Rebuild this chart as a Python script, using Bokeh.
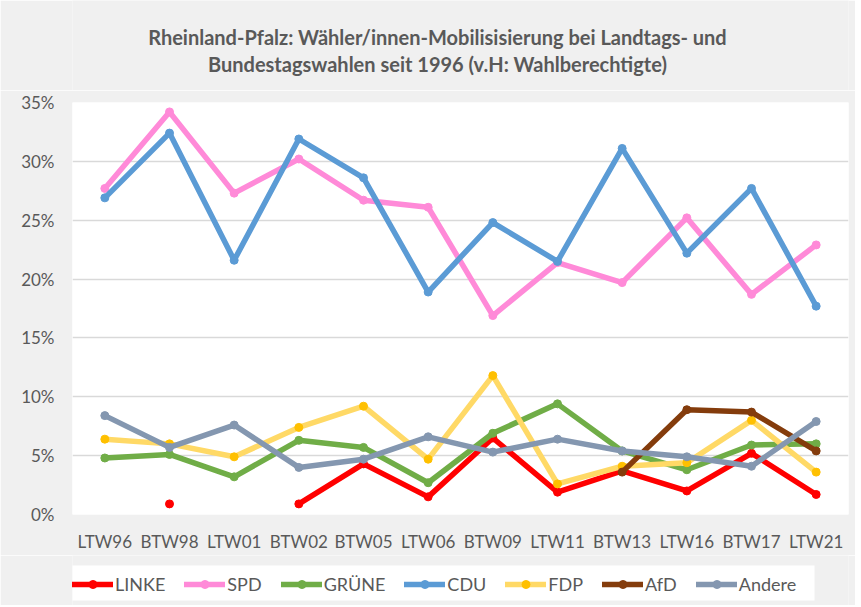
import numpy as np
from bokeh.plotting import figure
from bokeh.layouts import column
from bokeh.models import (FactorRange, FixedTicker, Legend, LegendItem, Range1d, Label,
                          BoxAnnotation)
from bokeh.embed import file_html
from bokeh.resources import INLINE

nan = float("nan")

elections = ["LTW96", "BTW98", "LTW01", "BTW02", "BTW05", "LTW06",
             "BTW09", "LTW11", "BTW13", "LTW16", "BTW17", "LTW21"]

linke  = [nan, 0.9, nan, 0.9, 4.3, 1.5, 6.5, 1.9, 3.7, 2.0, 5.2, 1.7]
spd    = [27.7, 34.2, 27.3, 30.2, 26.7, 26.1, 16.9, 21.4, 19.7, 25.2, 18.7, 22.9]
gruene = [4.8, 5.1, 3.2, 6.3, 5.7, 2.7, 6.9, 9.4, 5.4, 3.8, 5.9, 6.0]
cdu    = [26.9, 32.4, 21.6, 31.9, 28.6, 18.9, 24.8, 21.5, 31.1, 22.2, 27.7, 17.7]
fdp    = [6.4, 6.0, 4.9, 7.4, 9.2, 4.7, 11.8, 2.6, 4.1, 4.4, 8.0, 3.6]
afd    = [nan, nan, nan, nan, nan, nan, nan, nan, 3.6, 8.9, 8.7, 5.4]
andere = [8.4, 5.7, 7.6, 4.0, 4.7, 6.6, 5.3, 6.4, 5.4, 4.9, 4.1, 7.9]

series_names = ["LINKE", "SPD", "GRÜNE", "CDU", "FDP", "AfD", "Andere"]
series_values = [linke, spd, gruene, cdu, fdp, afd, andere]
line_colors = ["#ff0000", "#ff8ad8", "#70ad47", "#5b9bd5", "#ffd966", "#843c0c", "#8497b0"]
marker_colors = ["#ff0000", "#ff8ad8", "#70ad47", "#5b9bd5", "#ffc000", "#843c0c", "#8497b0"]

title_lines = ["Rheinland-Pfalz: Wähler/innen-Mobilisisierung bei Landtags- und",
               "Bundestagswahlen seit 1996 (v.H: Wahlberechtigte)"]

y_ticks = [0, 5, 10, 15, 20, 25, 30, 35]
y_tick_labels = {t: f"{t}%" for t in y_ticks}

FONT = "Lato"
GREY = "#595959"
BG = "#f0f0f0"
W = 855


def blank_fig(h, x_range, y_range):
    f = figure(width=W, height=h, x_range=x_range, y_range=y_range,
               x_axis_location=None, y_axis_location=None,
               output_backend="svg", toolbar_location=None, min_border=0)
    f.grid.visible = False
    f.outline_line_color = None
    f.background_fill_color = BG
    f.border_fill_color = BG
    return f


# ---- title strip ----
tf = blank_fig(90, Range1d(0, 1), Range1d(0, 1))
for i, line in enumerate(title_lines):
    tf.add_layout(Label(x=365, y=54 - 27.5 * i, x_units="screen", y_units="screen",
                        text=line, text_align="center", text_baseline="middle",
                        text_font=FONT, text_font_size="20px", text_font_style="bold",
                        text_color=GREY))

# ---- main chart ----
p = figure(width=W, height=465,
           x_range=FactorRange(factors=elections, range_padding=0),
           y_range=Range1d(0, 35), output_backend="svg", toolbar_location=None,
           min_border_left=72, min_border_right=7, min_border_top=12, min_border_bottom=41)
p.background_fill_color = "white"
p.border_fill_color = BG
p.outline_line_color = None

p.yaxis.ticker = FixedTicker(ticks=y_ticks)
p.yaxis.major_label_overrides = y_tick_labels
for ax in (p.xaxis, p.yaxis):
    ax.axis_line_color = None
    ax.major_tick_line_color = None
    ax.minor_tick_line_color = None
    ax.major_tick_out = 0
    ax.major_tick_in = 0
    ax.major_label_text_font = FONT
    ax.major_label_text_font_size = "17px"
    ax.major_label_text_color = GREY
p.yaxis.major_label_standoff = 18
p.xaxis.major_label_standoff = 16

p.xgrid.grid_line_color = None
p.ygrid.grid_line_color = "#d9d9d9"
p.ygrid.grid_line_width = 1.5

# ---- legend strip (its own view window lies outside the data, only the legend shows) ----
lf = blank_fig(50, FactorRange(factors=elections, range_padding=0), Range1d(100, 101))
lf.add_layout(BoxAnnotation(left=-13, right=742, bottom=5, top=40,
                            left_units="screen", right_units="screen",
                            bottom_units="screen", top_units="screen",
                            fill_color="white", fill_alpha=1.0, line_color=None))

items = []
for name, vals, lc, mc in zip(series_names, series_values, line_colors, marker_colors):
    ys = np.array(vals, dtype=float)
    p.line(elections, ys, line_color=lc, line_width=5.5, line_join="round", line_cap="round")
    p.scatter(elections, ys, marker="circle", size=8, fill_color=mc, line_color=mc)
    ln = lf.line(elections, ys, line_color=lc, line_width=5.5, line_cap="round")
    mk = lf.scatter(elections, ys, marker="circle", size=8, fill_color=mc, line_color=mc)
    items.append(LegendItem(label=name, renderers=[ln, mk]))

legend = Legend(items=items, orientation="horizontal", location=(0, 10),
                label_text_font=FONT, label_text_font_size="18px", label_text_color=GREY,
                glyph_width=41, glyph_height=20, label_height=20, label_standoff=2,
                spacing=19, padding=8, margin=0,
                background_fill_alpha=0.0, border_line_color=None)
lf.add_layout(legend, "center")

layout = column(tf, p, lf, spacing=0)

open("out.html", "w").write(file_html(layout, INLINE))
